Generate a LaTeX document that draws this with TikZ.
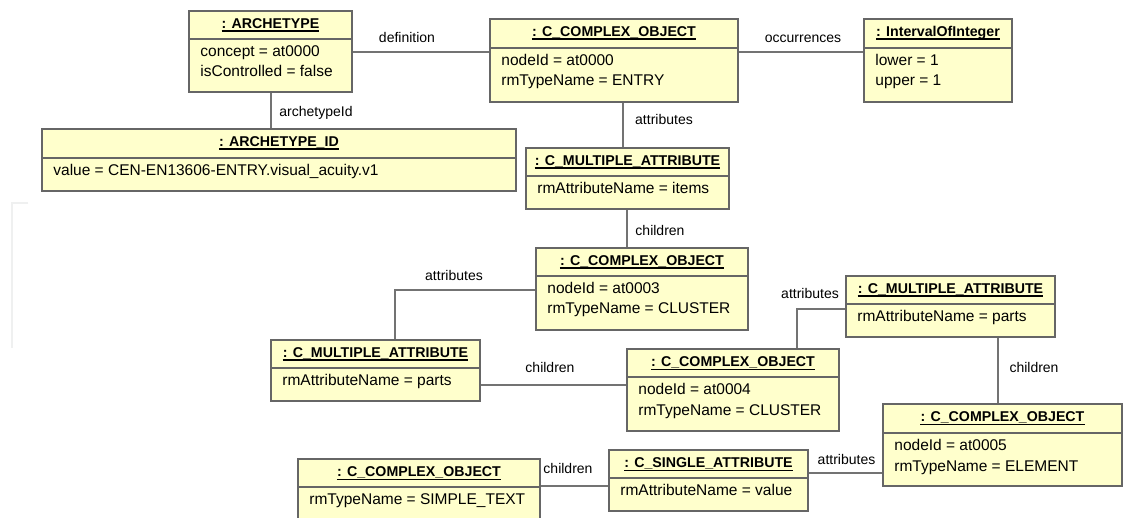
\documentclass[tikz,border=0pt]{standalone}
\usepackage{fontspec}
\setmainfont{Liberation Sans}
\usetikzlibrary{fit}
\definecolor{objfill}{HTML}{FFFFCC}
\definecolor{objline}{HTML}{666666}
\definecolor{conline}{HTML}{737373}
\definecolor{wmark}{HTML}{EFF0F0}
\tikzset{
  objbox/.style={draw=objline, fill=objfill, line width=1.6pt, inner sep=0pt},
  sepline/.style={draw=objline, line width=1.4pt},
  titletext/.style={font=\fontsize{14.2}{16}\selectfont\bfseries, inner sep=0pt},
  bodytext/.style={font=\fontsize{15.5}{18}\selectfont, inner sep=0pt},
  titleul/.style={draw=black, line width=1.2pt},
  conn/.style={draw=conline, line width=1.4pt},
  lbl/.style={font=\fontsize{14}{16}\selectfont, inner sep=0pt, anchor=base},
}
% #1 name, #2 x1, #3 y1, #4 x2, #5 y2, #6 separator y, #7 title, #8 body lines
\newcommand{\umlobj}[8]{%
  \node[objbox, fit={(#2,#3) (#4,#5)}] (#1) {};
  \coordinate (#1-s) at (#1.west |- 0,#6);
  \draw[sepline] (#1-s) -- (#1.east |- 0,#6);
  \node[titletext, anchor=base] (#1-t) at ([yshift=-18.5pt]#1.north) {#7};
  \draw[titleul] ([yshift=-2.4pt]#1-t.base west) -- ([yshift=-2.4pt]#1-t.base east);
  \foreach \l [count=\i] in {#8} {
    \pgfmathsetmacro{\dy}{-17.5-(\i-1)*20.5}
    \node[bodytext, anchor=base west] (#1-b\i) at ([xshift=12pt, yshift=\dy pt]#1-s) {\l};
  }
}
\begin{document}
\begin{tikzpicture}[x=1pt, y=-1pt]
\useasboundingbox (0,0) rectangle (1140,518);
\clip (0,0) rectangle (1140,518);
\fill[white] (0,0) rectangle (1140,518);

% faint watermark remnant
\draw[wmark, line width=2.6pt] (28,203) -- (12,203) -- (12,348);

% objects
\umlobj{arch}{189}{11}{352}{92}{39}{: ARCHETYPE}{concept = at0000, isControlled = false}
\umlobj{aid}{42}{129}{516}{191}{158}{: ARCHETYPE\_ID}{value = CEN-EN13606-ENTRY.visual\_acuity.v1}
\umlobj{co0}{490}{19}{738}{102}{48}{: C\_COMPLEX\_OBJECT}{nodeId = at0000, rmTypeName = ENTRY}
\umlobj{ioi}{864}{19}{1012}{102}{48}{: IntervalOfInteger}{lower = 1, upper = 1}
\umlobj{ma1}{526}{148}{729}{209}{176}{: C\_MULTIPLE\_ATTRIBUTE}{rmAttributeName = items}
\umlobj{co1}{536}{248}{748}{330}{276}{: C\_COMPLEX\_OBJECT}{nodeId = at0003, rmTypeName = CLUSTER}
\umlobj{ma2}{271}{340}{480}{401}{368}{: C\_MULTIPLE\_ATTRIBUTE}{rmAttributeName = parts}
\umlobj{co2}{627}{349}{839}{431}{377}{: C\_COMPLEX\_OBJECT}{nodeId = at0004, rmTypeName = CLUSTER}
\umlobj{ma3}{846}{276}{1055}{337}{304}{: C\_MULTIPLE\_ATTRIBUTE}{rmAttributeName = parts}
\umlobj{co3}{883}{404}{1122}{486}{433}{: C\_COMPLEX\_OBJECT}{nodeId = at0005, rmTypeName = ELEMENT}
\umlobj{sa}{609}{450}{808}{511}{478}{: C\_SINGLE\_ATTRIBUTE}{rmAttributeName = value}
\umlobj{co4}{298}{459}{540}{545}{487}{: C\_COMPLEX\_OBJECT}{rmTypeName = SIMPLE\_TEXT}

% connectors
\draw[conn] (arch.east |- 0,52) -- (co0.west |- 0,52);
\draw[conn] (co0.east |- 0,52) -- (ioi.west |- 0,52);
\draw[conn] (arch.south -| 271,0) -- (aid.north -| 271,0);
\draw[conn] (co0.south -| 623,0) -- (ma1.north -| 623,0);
\draw[conn] (ma1.south -| 627,0) -- (co1.north -| 627,0);
\draw[conn] (co1.west |- 0,290) -| (ma2.north -| 395,0);
\draw[conn] (ma2.east |- 0,385) -- (co2.west |- 0,385);
\draw[conn] (co2.north -| 797,0) |- (ma3.west |- 0,309);
\draw[conn] (ma3.south -| 998,0) -- (co3.north -| 998,0);
\draw[conn] (sa.east |- 0,473) -- (co3.west |- 0,473);
\draw[conn] (co4.east |- 0,486) -- (sa.west |- 0,486);

% connector labels
\node[lbl] (l1) at (407,43) {definition};
\node[lbl] (l2) at (803,42.5) {occurrences};
\node[lbl] (l3) at (316,117) {archetypeId};
\node[lbl] (l4) at (664,125) {attributes};
\node[lbl] (l5) at (660,236) {children};
\node[lbl] (l6) at (454,281) {attributes};
\node[lbl] (l7) at (550,373) {children};
\node[lbl] (l8) at (810,299) {attributes};
\node[lbl] (l9) at (1034,373) {children};
\node[lbl] (l10) at (846.5,464) {attributes};
\node[lbl] (l11) at (568,473) {children};
\end{tikzpicture}
\end{document}
